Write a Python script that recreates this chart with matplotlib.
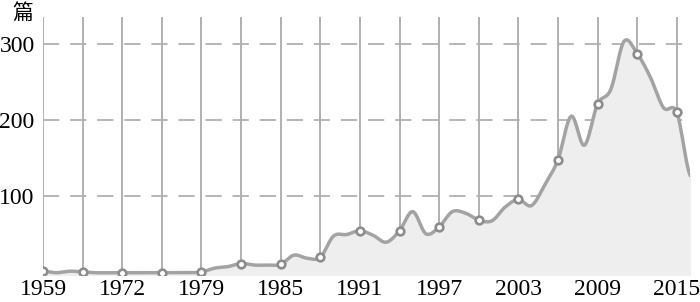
import numpy as np
from matplotlib import pyplot as plt

# categorical years (evenly spaced on the axis)
years = ["1959", "1960", "1962", "1963", "1964", "1966", "1972", "1973", "1974", "1975",
         "1976", "1978", "1979", "1980", "1981", "1982", "1983", "1984", "1985", "1986",
         "1987", "1988", "1989", "1990", "1991", "1992", "1993", "1994", "1995", "1996",
         "1997", "1998", "1999", "2000", "2001", "2002", "2003", "2004", "2005", "2006",
         "2007", "2008", "2009", "2010", "2011", "2012", "2013", "2014", "2015", "2016"]
counts = [2, 0, 2, 1, 0, 0, 0, 0, 0, 0,
          0, 0, 1, 6, 8, 12, 10, 10, 11, 23,
          19, 20, 48, 50, 55, 49, 40, 55, 80, 51,
          60, 80, 78, 69, 68, 86, 96, 88, 115, 148,
          205, 167, 221, 240, 303, 287, 256, 216, 210, 128]
marked = list(range(0, 49, 3))
labelled = list(range(0, 49, 6))
yticks = [100, 200, 300]

def smooth(x, y, n=20):
    # catmull-rom through the points
    xs, ys = [], []
    px = np.concatenate([[x[0]], x, [x[-1]]])
    py = np.concatenate([[y[0]], y, [y[-1]]])
    t = np.linspace(0, 1, n, endpoint=False)
    for i in range(1, len(px) - 2):
        p0, p1, p2, p3 = py[i-1], py[i], py[i+1], py[i+2]
        a = 2*p1 + (p2 - p0)*t + (2*p0 - 5*p1 + 4*p2 - p3)*t**2 + (-p0 + 3*p1 - 3*p2 + p3)*t**3
        ys.append(0.5*a)
        xs.append(px[i] + (px[i+1] - px[i])*t)
    xs.append([x[-1]]); ys.append([y[-1]])
    return np.concatenate(xs), np.concatenate(ys)

x = np.arange(len(years))
y = np.array(counts, dtype=float)
sx, sy = smooth(x, y)

fig = plt.figure(figsize=(7, 3.02), dpi=100)
ax = fig.add_axes([43/700, (302-275)/302, (690-43)/700, (275-17)/302])

for i in marked:
    ax.axvline(i, color="#aaaaaa", lw=1.3, zorder=1)
for v in yticks:
    ax.axhline(v, color="#b0b0b0", lw=1.3, dashes=(9, 6), zorder=1)

ax.fill_between(sx, sy, -3, color="#eeeeee", zorder=2)
ax.plot(sx, sy, color="#a3a3a3", lw=2.5, zorder=3)
ax.plot(x[marked], y[marked], "o", ms=5.5, mfc="white", mec="#8c8c8c", mew=1.9, zorder=4)

ax.set_xlim(0, len(years) - 1)
ax.set_ylim(-3, 335)
ax.set_xticks(labelled)
ax.set_xticklabels([years[i] for i in labelled], family="Liberation Serif", fontsize=17)
ax.set_yticks(yticks)
ax.set_yticklabels([str(v) for v in yticks], family="Liberation Serif", fontsize=17)
ax.tick_params(length=0, pad=3)
ax.tick_params(axis="y", pad=6)
for s in ax.spines.values():
    s.set_visible(False)

fig.text(12/700, 1 - 13/302, "篇", family=["Noto Sans CJK SC", "DejaVu Sans"], fontsize=15, va="center")

fig.savefig("out.png", dpi=100)
